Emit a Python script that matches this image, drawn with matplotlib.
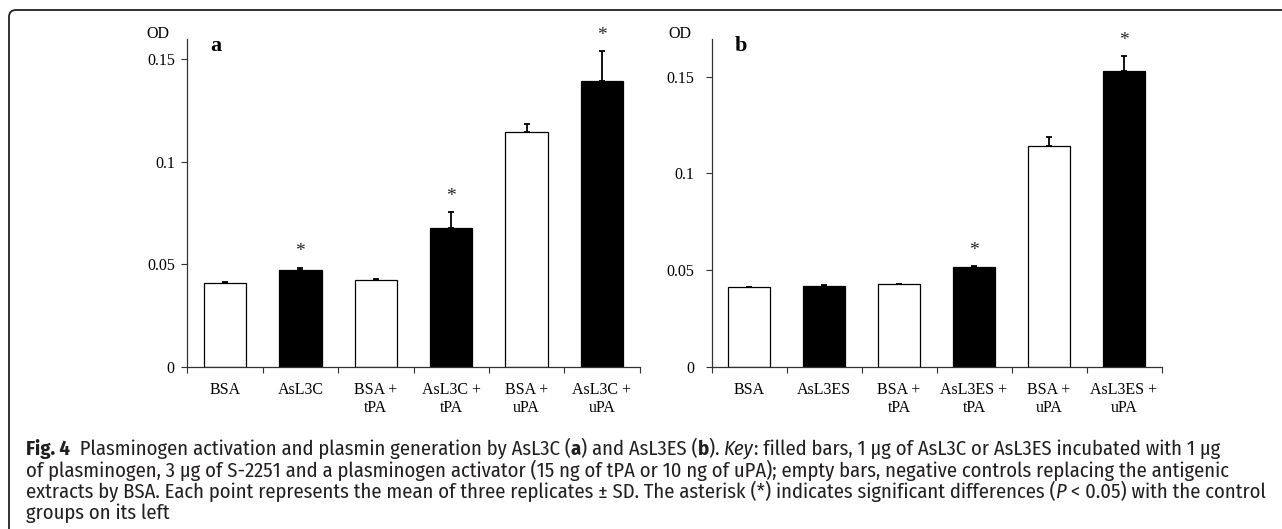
import numpy as np
import matplotlib
matplotlib.use('Agg')
import matplotlib.pyplot as plt
from matplotlib.path import Path
from matplotlib.patches import PathPatch

# data
labels_a = ['BSA', 'AsL3C', 'BSA +\ntPA', 'AsL3C +\ntPA', 'BSA +\nuPA', 'AsL3C +\nuPA']
od_a = [0.0410, 0.0471, 0.0423, 0.0679, 0.1147, 0.1396]
sd_a = [0.0003, 0.0013, 0.0006, 0.0078, 0.0040, 0.0147]
sig_a = [False, True, False, True, False, True]

labels_b = ['BSA', 'AsL3ES', 'BSA +\ntPA', 'AsL3ES +\ntPA', 'BSA +\nuPA', 'AsL3ES +\nuPA']
od_b = [0.0412, 0.0418, 0.0426, 0.0514, 0.1144, 0.1530]
sd_b = [0.0003, 0.0006, 0.0004, 0.0009, 0.0043, 0.0078]
sig_b = [False, False, False, True, False, True]

yticks = [0, 0.05, 0.1, 0.15]
ytick_labels = ['0', '0.05', '0.1', '0.15']

W, H = 1282, 529
fig = plt.figure(figsize=(W / 100, H / 100), dpi=100)
serif = 'Liberation Serif'
cap_font = ['Fira Sans Condensed', 'Open Sans', 'DejaVu Sans']


def px(x, y):
    # pixel coords (from top-left) -> figure fraction
    return x / W, 1 - y / H


def panel(rect, labels, od, sd, sig, ymax, letter, od_xy, letter_xy, ypad):
    ax = fig.add_axes(rect)
    x = np.arange(len(od))
    colors = ['white' if i % 2 == 0 else 'black' for i in range(len(od))]
    ax.bar(x, od, width=0.56, color=colors, edgecolor='black', linewidth=0.9, zorder=2)
    ax.errorbar(x, od, yerr=[np.zeros(len(sd)), sd], fmt='none', ecolor='black',
                elinewidth=1.3, capsize=2, capthick=1.3, zorder=3)
    for i in range(len(od)):
        if sig[i]:
            ax.annotate('*', (x[i], od[i] + sd[i]), xytext=(0, 8), textcoords='offset points',
                        ha='center', va='baseline', fontsize=14, family=serif, color='#222222')
    ax.set_xlim(-0.5, len(od) - 0.5)
    ax.set_ylim(0, ymax)
    for s in ['top', 'right']:
        ax.spines[s].set_visible(False)
    for s in ['left', 'bottom']:
        ax.spines[s].set_color('#333333')
        ax.spines[s].set_linewidth(0.9)
    ax.set_yticks(yticks)
    ax.set_yticklabels(ytick_labels, family=serif, fontsize=11.5)
    ax.tick_params(axis='y', length=4.5, width=0.8, color='#333333', pad=ypad)
    ax.set_xticks(x)
    ax.set_xticklabels(labels, family=serif, fontsize=11.5, linespacing=1.2)
    ax.set_xticks(np.arange(-0.5, len(od)), minor=True)
    ax.tick_params(axis='x', which='major', length=0, pad=11)
    ax.tick_params(axis='x', which='minor', length=4, width=0.8, color='#333333')
    fx, fy = px(*od_xy)
    fig.text(fx, fy, 'OD', ha='center', va='center', family=serif, fontsize=11.5)
    fx, fy = px(*letter_xy)
    fig.text(fx, fy, letter, ha='center', va='center', family=serif, fontsize=16, fontweight='bold')
    return ax


bottom = 1 - 366.7 / H
height = (366.7 - 39) / H
panel([187.3 / W, bottom, 452.4 / W, height], labels_a, od_a, sd_a, sig_a, 0.16, 'a',
      (157.5, 34), (215.5, 46), 4.5)
panel([711.6 / W, bottom, 449.9 / W, height], labels_b, od_b, sd_b, sig_b, 0.1696, 'b',
      (680, 34), (741, 46), 8)

# caption
cap_lines = [
    [('Fig. 4', 'bold', 'normal'),
     ('  Plasminogen activation and plasmin generation by AsL3C (', 'normal', 'normal'),
     ('a', 'bold', 'normal'), (') and AsL3ES (', 'normal', 'normal'),
     ('b', 'bold', 'normal'), ('). ', 'normal', 'normal'), ('Key', 'normal', 'italic'),
     (': filled bars, 1 \u00b5g of AsL3C or AsL3ES incubated with 1 \u00b5g', 'normal', 'normal')],
    [('of plasminogen, 3 \u00b5g of S-2251 and a plasminogen activator (15 ng of tPA or 10 ng of uPA); '
      'empty bars, negative controls replacing the antigenic', 'normal', 'normal')],
    [('extracts by BSA. Each point represents the mean of three replicates \u00b1 SD. '
      'The asterisk (*) indicates significant differences (', 'normal', 'normal'),
     ('P', 'normal', 'italic'), (' < 0.05) with the control', 'normal', 'normal')],
    [('groups on its left', 'normal', 'normal')],
]
baselines = [455.0, 476.3, 497.6, 518.9]
cap_size = 14.8
for line, yb in zip(cap_lines, baselines):
    last = None
    for txt, wt, st in line:
        kw = dict(family=cap_font, fontsize=cap_size, fontweight=wt,
                  fontstyle=st, color='#231f20')
        if last is None:
            fx, fy = px(26, yb)
            last = fig.text(fx, fy, txt, ha='left', va='baseline', **kw)
        else:
            last = fig.add_artist(plt.Annotation(txt, xy=(1, 0), xycoords=last, xytext=(0, 0),
                                                 textcoords='offset points', ha='left',
                                                 va='bottom', **kw))

# frame with rounded top-left corner
r = 7
verts = [(9, H), (9, 10 + r), (9, 10), (9 + r, 10), (W, 10)]
verts = [(vx / 100, (H - vy) / 100) for vx, vy in verts]
codes = [Path.MOVETO, Path.LINETO, Path.CURVE3, Path.CURVE3, Path.LINETO]
fig.add_artist(PathPatch(Path(verts, codes), fill=False, lw=1.3, edgecolor='#231f20',
                         transform=fig.dpi_scale_trans))

fig.savefig('out.png', dpi=100)
